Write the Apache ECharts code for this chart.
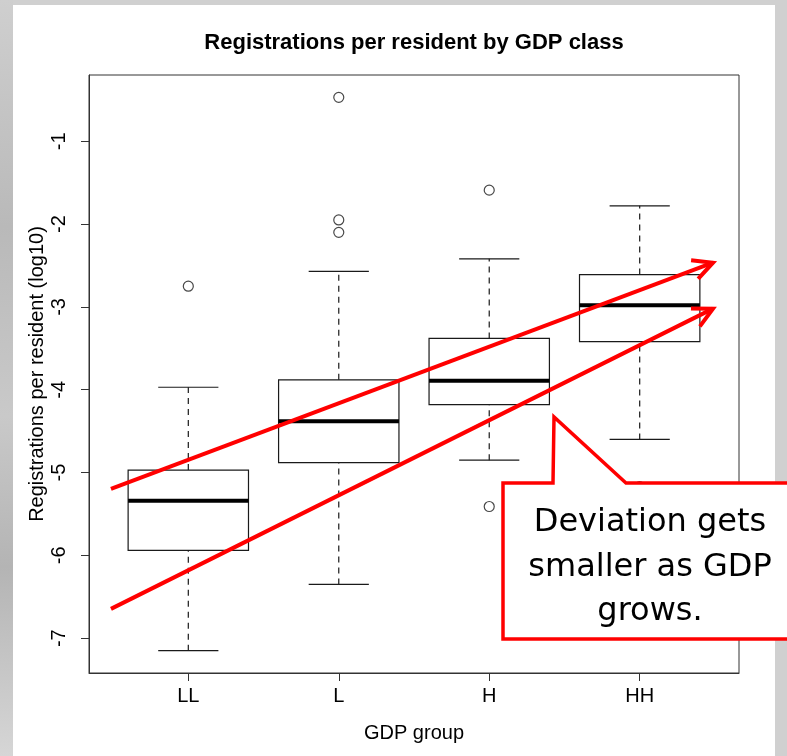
<!DOCTYPE html>
<html>
<head>
<meta charset="utf-8">
<title>Registrations per resident by GDP class</title>
<script src="https://cdn.jsdelivr.net/npm/echarts@6/dist/echarts.min.js"></script>
<style>
  html, body { margin: 0; padding: 0; }
  body { width: 787px; height: 756px; background: #d0d0d0; position: relative; overflow: hidden; }
  #side { position: absolute; left: 0; top: 0; width: 13px; height: 756px;
          background: linear-gradient(#cfcfcf, #b9b9b9 30%, #c9c9c9 55%, #b4b4b4 75%, #d6d6d6); }
  #panel { position: absolute; left: 13px; top: 5px; width: 762px; height: 751px; background: #fff; }
  #chart { position: absolute; left: 0; top: 0; width: 787px; height: 756px; }
</style>
</head>
<body>
<div id="side"></div>
<div id="panel"></div>
<div id="chart"></div>
<script>
// box statistics per GDP group (log10 registrations per resident)
const categories = ['LL', 'L', 'H', 'HH'];
const lowerWhisker = [-7.15, -6.35, -4.85, -4.60];
const q1 = [-5.94, -4.88, -4.18, -3.42];
const median = [-5.34, -4.38, -3.89, -2.98];
const q3 = [-4.97, -3.88, -3.38, -2.61];
const upperWhisker = [-3.97, -2.57, -2.42, -1.78];

// outliers: group position (1..4) and value
const outlierGroup = [1, 2, 2, 2, 3, 3, 4];
const outlierValue = [-2.75, -0.47, -1.95, -2.10, -1.59, -5.41, -5.17];

const yTicks = [-7, -6, -5, -4, -3, -2, -1];
const xTicks = [1, 2, 3, 4];

// red trend arrows, in data units [x, y]
const arrowStart = [[0.486, -5.196], [0.486, -6.646]];
const arrowEnd = [[4.487, -2.466], [4.487, -3.021]];

const ink = '#1a1a1a';
const font = 'Liberation Sans, Arial, sans-serif';

const boxData = categories.map((c, i) =>
  [i + 1, lowerWhisker[i], q1[i], median[i], q3[i], upperWhisker[i]]);
const outlierData = outlierGroup.map((g, i) => [g, outlierValue[i]]);

function renderBox(params, api) {
  const x = api.value(0);
  const lo = api.coord([x, api.value(1)]);
  const b1 = api.coord([x, api.value(2)]);
  const md = api.coord([x, api.value(3)]);
  const b3 = api.coord([x, api.value(4)]);
  const hi = api.coord([x, api.value(5)]);
  const hw = api.size([0.8, 0])[0] / 2;   // boxwex 0.8
  const cw = hw / 2;                      // staple 0.5
  const cx = lo[0];
  const thin = { stroke: ink, lineWidth: 1.2, fill: null };
  const dash = { stroke: ink, lineWidth: 1.2, lineDash: [6, 5] };
  return {
    type: 'group',
    children: [
      { type: 'line', shape: { x1: cx, y1: b3[1], x2: cx, y2: hi[1] }, style: dash },
      { type: 'line', shape: { x1: cx, y1: lo[1], x2: cx, y2: b1[1] }, style: dash },
      { type: 'line', shape: { x1: cx - cw, y1: hi[1], x2: cx + cw, y2: hi[1] }, style: thin },
      { type: 'line', shape: { x1: cx - cw, y1: lo[1], x2: cx + cw, y2: lo[1] }, style: thin },
      { type: 'rect', shape: { x: cx - hw, y: b3[1], width: 2 * hw, height: b1[1] - b3[1] }, style: thin },
      { type: 'line', shape: { x1: cx - hw, y1: md[1], x2: cx + hw, y2: md[1] }, style: { stroke: '#000', lineWidth: 4 } }
    ]
  };
}

const chart = echarts.init(document.getElementById('chart'), null, { renderer: 'canvas' });

chart.setOption({
  backgroundColor: 'transparent',
  animation: false,
  title: {
    text: 'Registrations per resident by GDP class',
    left: 414,
    top: 32,
    padding: 0,
    textAlign: 'center',
    textStyle: { fontFamily: font, fontSize: 22, fontWeight: 'bold', color: '#000' }
  },
  grid: {
    left: 89, top: 75, width: 650, height: 598,
    show: true, borderColor: '#333', borderWidth: 1,
    outerBoundsMode: 'none'
  },
  xAxis: {
    type: 'value',
    min: 0.34, max: 4.66,
    name: 'GDP group',
    nameLocation: 'middle',
    nameGap: 50,
    nameMoveOverlap: false,
    nameTextStyle: { fontFamily: font, fontSize: 20, color: '#000' },
    splitLine: { show: false },
    axisLine: { show: true, lineStyle: { color: '#333', width: 1 } },
    axisTick: { show: true, length: 8, customValues: xTicks, lineStyle: { color: '#333' } },
    axisLabel: {
      customValues: xTicks,
      margin: 13,
      fontFamily: font, fontSize: 20, color: '#000',
      formatter: v => categories[Math.round(v) - 1] || ''
    }
  },
  yAxis: {
    type: 'value',
    min: -7.42, max: -0.2,
    name: 'Registrations per resident (log10)',
    nameLocation: 'middle',
    nameGap: 42,
    nameMoveOverlap: false,
    nameTextStyle: { fontFamily: font, fontSize: 20, color: '#000' },
    splitLine: { show: false },
    axisLine: { show: true, lineStyle: { color: '#333', width: 1 } },
    axisTick: { show: true, length: 8, customValues: yTicks, lineStyle: { color: '#333' } },
    axisLabel: {
      customValues: yTicks,
      rotate: 90,
      margin: 20,
      fontFamily: font, fontSize: 20, color: '#000'
    }
  },
  series: [
    {
      type: 'custom',
      renderItem: renderBox,
      encode: { x: 0, y: [1, 2, 3, 4, 5] },
      data: boxData,
      z: 3
    },
    {
      type: 'scatter',
      symbol: 'circle',
      symbolSize: 10,
      itemStyle: { color: 'rgba(0,0,0,0)', borderColor: ink, borderWidth: 1.2 },
      data: outlierData,
      z: 3
    }
  ]
});

// annotation overlay: two red arrows and the callout
function arrow(p, q) {
  const a = Math.atan2(q[1] - p[1], q[0] - p[0]);
  const L = 22, t = 27 * Math.PI / 180;
  const h1 = [q[0] - L * Math.cos(a - t), q[1] - L * Math.sin(a - t)];
  const h2 = [q[0] - L * Math.cos(a + t), q[1] - L * Math.sin(a + t)];
  const red = { stroke: '#ff0000', lineWidth: 4, fill: null, lineJoin: 'miter' };
  return [
    { type: 'line', z: 50, shape: { x1: p[0], y1: p[1], x2: q[0], y2: q[1] }, style: red },
    { type: 'polyline', z: 50, shape: { points: [h1, q, h2] }, style: red }
  ];
}

const overlay = [];
arrowStart.forEach((s, i) => {
  const p = chart.convertToPixel({ gridIndex: 0 }, s);
  const q = chart.convertToPixel({ gridIndex: 0 }, arrowEnd[i]);
  overlay.push(...arrow(p, q));
});

overlay.push({
  type: 'polygon', z: 60,
  shape: { points: [[503, 483], [553, 483], [554, 417], [626, 483], [800, 483], [800, 639], [503, 639]] },
  style: { fill: '#fff', stroke: '#ff0000', lineWidth: 3.5, lineJoin: 'miter' }
});
['Deviation gets', 'smaller as GDP', 'grows.'].forEach((line, i) => {
  overlay.push({
    type: 'text', z: 61,
    x: 650, y: 523 + i * 44.5,
    style: {
      text: line, fill: '#000',
      font: '32px "DejaVu Sans", sans-serif',
      textAlign: 'center', textVerticalAlign: 'middle'
    }
  });
});

chart.setOption({ graphic: overlay });
</script>
</body>
</html>
